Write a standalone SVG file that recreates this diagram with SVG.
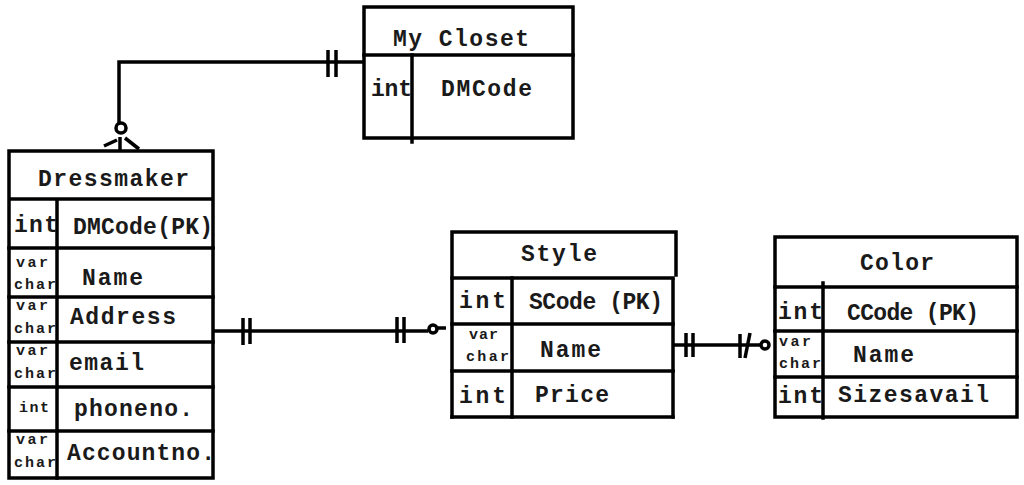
<svg xmlns="http://www.w3.org/2000/svg" width="1024" height="485" viewBox="0 0 1024 485">
<style>
.b{fill:none;stroke:#000;stroke-width:3.5;stroke-linecap:square}
.c{fill:none;stroke:#000;stroke-width:3.5}
.t{font-family:"Liberation Mono","Courier New",monospace;font-size:23px;font-weight:bold;fill:#1a1a1a}
.s{font-family:"Liberation Mono","Courier New",monospace;font-size:15px;font-weight:bold;fill:#1a1a1a}
</style>
<rect width="1024" height="485" fill="#fff"/>
<g id="myCloset">
<rect class="b" x="364" y="7" width="209" height="131"/>
<line class="b" x1="364" y1="55" x2="573" y2="55"/>
<line class="b" x1="412" y1="55" x2="412" y2="142"/>
<text class="t" x="393" y="46" textLength="136" lengthAdjust="spacing">My Closet</text>
<text class="t" x="371" y="96" textLength="41" lengthAdjust="spacing">int</text>
<text class="t" x="441" y="96" textLength="91" lengthAdjust="spacing">DMCode</text>
</g>
<g id="dressmaker">
<rect class="b" x="9" y="151" width="204" height="327"/>
<line class="c" x1="9" y1="199" x2="213" y2="199" stroke-width="5"/>
<line class="b" x1="57" y1="200" x2="57" y2="478"/>
<line class="b" x1="9" y1="248" x2="213" y2="248"/>
<line class="b" x1="9" y1="297" x2="213" y2="297"/>
<line class="b" x1="9" y1="342" x2="213" y2="342"/>
<line class="b" x1="9" y1="387" x2="213" y2="387"/>
<line class="b" x1="9" y1="431" x2="213" y2="431"/>
<text class="t" x="38" y="186" textLength="151" lengthAdjust="spacing">Dressmaker</text>
<text class="t" x="14" y="232" textLength="44" lengthAdjust="spacing">int</text>
<text class="t" x="73" y="234" textLength="140" lengthAdjust="spacing">DMCode(PK)</text>
<text class="s" x="16" y="267" textLength="32" lengthAdjust="spacing">var</text>
<text class="s" x="14" y="289" textLength="42" lengthAdjust="spacing">char</text>
<text class="t" x="82" y="285" textLength="61" lengthAdjust="spacing">Name</text>
<text class="s" x="16" y="310" textLength="32" lengthAdjust="spacing">var</text>
<text class="s" x="14" y="333" textLength="42" lengthAdjust="spacing">char</text>
<text class="t" x="70" y="324" textLength="106" lengthAdjust="spacing">Address</text>
<text class="s" x="16" y="355" textLength="32" lengthAdjust="spacing">var</text>
<text class="s" x="14" y="378" textLength="42" lengthAdjust="spacing">char</text>
<text class="t" x="69" y="370" textLength="75" lengthAdjust="spacing">email</text>
<text class="s" x="19" y="412" textLength="30" lengthAdjust="spacing">int</text>
<text class="t" x="74" y="416" textLength="119" lengthAdjust="spacing">phoneno.</text>
<text class="s" x="16" y="444" textLength="32" lengthAdjust="spacing">var</text>
<text class="s" x="14" y="467" textLength="42" lengthAdjust="spacing">char</text>
<text class="t" x="67" y="460" textLength="148" lengthAdjust="spacing">Accountno.</text>
</g>
<g id="style">
<polyline class="b" points="452,417 452,232 676,232 676,275"/>
<line class="b" x1="452" y1="278" x2="673" y2="278"/>
<line class="b" x1="673" y1="280" x2="673" y2="417"/>
<line class="b" x1="452" y1="417" x2="673" y2="417"/>
<line class="b" x1="512" y1="278" x2="512" y2="417"/>
<line class="b" x1="452" y1="324" x2="673" y2="324"/>
<line class="b" x1="452" y1="371" x2="673" y2="371"/>
<text class="t" x="521" y="261" textLength="76" lengthAdjust="spacing">Style</text>
<text class="t" x="459" y="308" textLength="47" lengthAdjust="spacing">int</text>
<text class="t" x="529" y="309" textLength="134" lengthAdjust="spacing">SCode (PK)</text>
<text class="s" x="469" y="339" textLength="29" lengthAdjust="spacing">var</text>
<text class="s" x="466" y="361" textLength="43" lengthAdjust="spacing">char</text>
<text class="t" x="540" y="357" textLength="61" lengthAdjust="spacing">Name</text>
<text class="t" x="459" y="403" textLength="47" lengthAdjust="spacing">int</text>
<text class="t" x="535" y="402" textLength="74" lengthAdjust="spacing">Price</text>
</g>
<g id="color">
<rect class="b" x="775" y="237" width="242" height="180"/>
<line class="b" x1="775" y1="287" x2="1017" y2="287"/>
<line class="b" x1="823" y1="283" x2="823" y2="418"/>
<line class="b" x1="775" y1="331" x2="1017" y2="331"/>
<line class="b" x1="775" y1="377" x2="1017" y2="377"/>
<text class="t" x="860" y="270" textLength="74" lengthAdjust="spacing">Color</text>
<text class="t" x="778" y="319" textLength="45" lengthAdjust="spacing">int</text>
<text class="t" x="847" y="320" textLength="132" lengthAdjust="spacing">CCode (PK)</text>
<text class="s" x="779" y="346" textLength="32" lengthAdjust="spacing">var</text>
<text class="s" x="779" y="368" textLength="42" lengthAdjust="spacing">char</text>
<text class="t" x="853" y="362" textLength="61" lengthAdjust="spacing">Name</text>
<text class="t" x="778" y="403" textLength="45" lengthAdjust="spacing">int</text>
<text class="t" x="838" y="402" textLength="151" lengthAdjust="spacing">Sizesavail</text>
</g>
<g id="connectors">
<polyline class="c" points="364,62 119,62 119,123"/>
<line class="c" x1="328" y1="50" x2="328" y2="77"/>
<line class="c" x1="336" y1="50" x2="336" y2="77"/>
<circle class="c" cx="121" cy="128" r="5" stroke-width="3"/>
<line class="c" x1="120" y1="137" x2="120" y2="150"/>
<line class="c" x1="104" y1="146" x2="117" y2="140"/>
<line class="c" x1="125" y1="138" x2="139" y2="149"/>
<line class="c" x1="213" y1="331" x2="428" y2="331"/>
<line class="c" x1="243" y1="318" x2="243" y2="345"/>
<line class="c" x1="250" y1="318" x2="250" y2="344"/>
<line class="c" x1="397" y1="317" x2="397" y2="343"/>
<line class="c" x1="404" y1="317" x2="404" y2="343"/>
<circle class="c" cx="433" cy="329" r="4" stroke-width="3"/>
<line class="c" x1="437" y1="328" x2="446" y2="328"/>
<line class="c" x1="673" y1="345" x2="760" y2="345"/>
<line class="c" x1="686" y1="333" x2="686" y2="357"/>
<line class="c" x1="693" y1="333" x2="693" y2="357"/>
<line class="c" x1="740" y1="334" x2="740" y2="358"/>
<line class="c" x1="745" y1="358" x2="750" y2="333"/>
<circle class="c" cx="765" cy="345" r="4" stroke-width="3"/>
</g>
</svg>
